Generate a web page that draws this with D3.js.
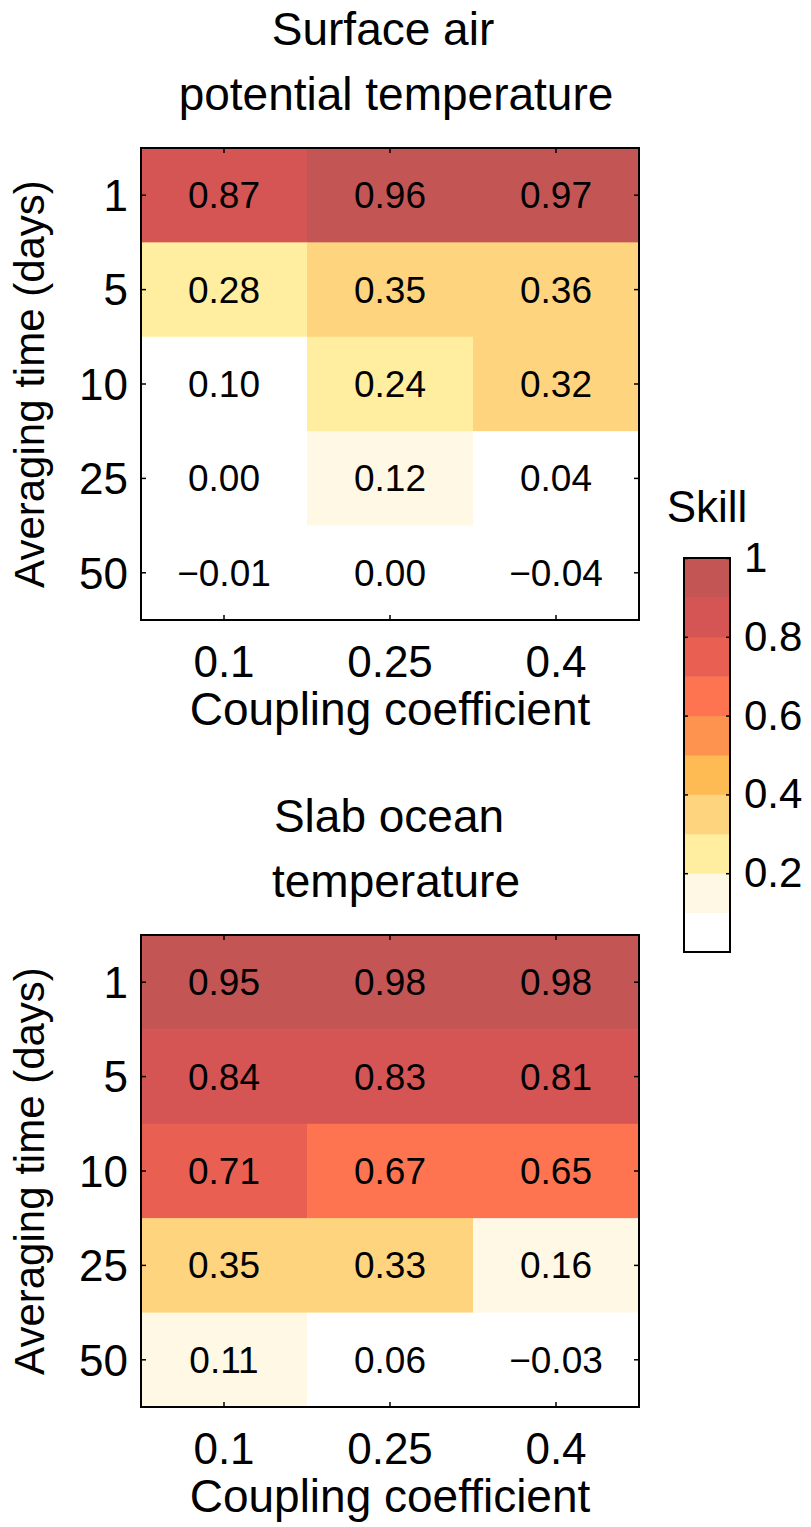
<!DOCTYPE html>
<html>
<head>
<meta charset="utf-8">
<script src="https://cdn.jsdelivr.net/npm/d3@7/dist/d3.min.js"></script>
<style>
  html, body { margin: 0; padding: 0; background: #fff; }
  text { font-family: "Liberation Sans", Arial, Helvetica, sans-serif; fill: #000; }
</style>
</head>
<body>
<svg id="chart" width="811" height="1527"></svg>
<script>
// ---- data ----
const couplings = ["0.1", "0.25", "0.4"];
const avgTimes = ["1", "5", "10", "25", "50"];
const airSkill = [
  [0.87, 0.96, 0.97],
  [0.28, 0.35, 0.36],
  [0.099, 0.24, 0.32],
  [0.00, 0.12, 0.04],
  [-0.01, 0.00, -0.04]
];
const oceanSkill = [
  [0.95, 0.98, 0.98],
  [0.84, 0.83, 0.81],
  [0.71, 0.67, 0.65],
  [0.35, 0.33, 0.16],
  [0.11, 0.06, -0.03]
];
const panelTitles = [["Surface air", "potential temperature"], ["Slab ocean", "temperature"]];
const colorThresholds = [0.1, 0.2, 0.3, 0.4, 0.5, 0.6, 0.7, 0.8, 0.9];
const colorBins = ["#ffffff", "#fff8e5", "#ffeda0", "#fed57e", "#febb53",
                   "#fe9350", "#ff7450", "#e96053", "#d55555", "#c35555"];
const colorbarTicks = [0.2, 0.4, 0.6, 0.8, 1];

// ---- setup ----
const svg = d3.select("#chart");
const color = d3.scaleThreshold().domain(colorThresholds).range(colorBins);
const fmt = d3.format(".2f");

const left = 141, right = 639, plotH = 472;
const x = d3.scaleBand().domain(couplings).range([left, right]).padding(0);

function drawPanel(data, titleLines, top, firstLineShift) {
  const y = d3.scaleBand().domain(avgTimes).range([top, top + plotH]).padding(0);
  const g = svg.append("g");

  // title
  titleLines.forEach((t, i) => {
    g.append("text").attr("x", 396 + (i === 0 ? firstLineShift : 0)).attr("y", top - 103 + i * 65)
      .attr("text-anchor", "middle").style("font-size", "46px").text(t);
  });

  const cells = [];
  data.forEach((row, ri) => row.forEach((v, ci) => cells.push({r: avgTimes[ri], c: couplings[ci], v})));

  g.selectAll("rect.cell").data(cells).enter().append("rect")
    .attr("class", "cell")
    .attr("x", d => x(d.c)).attr("y", d => y(d.r))
    .attr("width", x.bandwidth() + 0.5).attr("height", y.bandwidth() + 0.5)
    .attr("fill", d => color(d.v));

  g.selectAll("text.val").data(cells).enter().append("text")
    .attr("class", "val")
    .attr("x", d => x(d.c) + x.bandwidth() / 2)
    .attr("y", d => y(d.r) + y.bandwidth() / 2 + 13)
    .attr("text-anchor", "middle").style("font-size", "37px")
    .text(d => fmt(d.v));

  // frame
  g.append("rect").attr("x", left).attr("y", top).attr("width", right - left).attr("height", plotH)
    .attr("fill", "none").attr("stroke", "#000").attr("stroke-width", 2);

  // axes with inward ticks
  const tl = 5;
  const axB = d3.axisBottom(x).tickSize(-tl).tickPadding(20);
  const axT = d3.axisTop(x).tickSize(-tl).tickFormat("");
  const axL = d3.axisLeft(y).tickSize(-tl).tickPadding(13);
  const axR = d3.axisRight(y).tickSize(-tl).tickFormat("");
  const made = [[axB, `translate(0,${top + plotH})`], [axT, `translate(0,${top})`],
   [axL, `translate(${left},0)`], [axR, `translate(${right},0)`]].map(([ax, tr]) => {
    const a = g.append("g").attr("transform", tr).call(ax);
    a.select(".domain").remove();
    a.selectAll(".tick line").attr("stroke", "#000").attr("stroke-width", 1.5);
    a.selectAll(".tick text").style("font-size", "44px").attr("fill", "#000");
    return a;
  });
  made[0].selectAll(".tick text").attr("dy", null).attr("y", 57);
  made[2].selectAll(".tick text").attr("dy", "0.36em");

  // x label
  g.append("text").attr("x", (left + right) / 2).attr("y", top + plotH + 105)
    .attr("text-anchor", "middle").style("font-size", "46px").text("Coupling coefficient");
  // y label
  g.append("text").attr("transform", `translate(44,${top + plotH / 2}) rotate(-90)`)
    .attr("text-anchor", "middle").style("font-size", "42px").text("Averaging time (days)");
}

drawPanel(airSkill, panelTitles[0], 148, -13);
drawPanel(oceanSkill, panelTitles[1], 935, -7);

// ---- colorbar ----
const cbL = 684, cbR = 730, cbTop = 558, cbBot = 952;
const cy = d3.scaleLinear().domain([0, 1]).range([cbBot, cbTop]);
const binLo = [0].concat(colorThresholds);
const binHi = colorThresholds.concat([1]);
const cb = svg.append("g");
cb.selectAll("rect.bin").data(colorBins).enter().append("rect")
  .attr("x", cbL).attr("width", cbR - cbL)
  .attr("y", (d, i) => cy(binHi[i]))
  .attr("height", (d, i) => cy(binLo[i]) - cy(binHi[i]) + 0.5)
  .attr("fill", d => d);
cb.append("rect").attr("x", cbL).attr("y", cbTop).attr("width", cbR - cbL).attr("height", cbBot - cbTop)
  .attr("fill", "none").attr("stroke", "#000").attr("stroke-width", 2);
const axCR = cb.append("g").attr("transform", `translate(${cbR},0)`)
  .call(d3.axisRight(cy).tickValues(colorbarTicks).tickSize(-4).tickPadding(14).tickFormat(d3.format("")));
axCR.select(".domain").remove();
axCR.selectAll(".tick line").attr("stroke", "#000").attr("stroke-width", 1.5);
axCR.selectAll(".tick text").style("font-size", "42px").attr("fill", "#000");
const axCL = cb.append("g").attr("transform", `translate(${cbL},0)`)
  .call(d3.axisLeft(cy).tickValues(colorbarTicks).tickSize(-4).tickFormat(""));
axCL.select(".domain").remove();
axCL.selectAll(".tick line").attr("stroke", "#000").attr("stroke-width", 1.5);
cb.append("text").attr("x", (cbL + cbR) / 2).attr("y", 522).attr("text-anchor", "middle")
  .style("font-size", "44px").text("Skill");
</script>
</body>
</html>
